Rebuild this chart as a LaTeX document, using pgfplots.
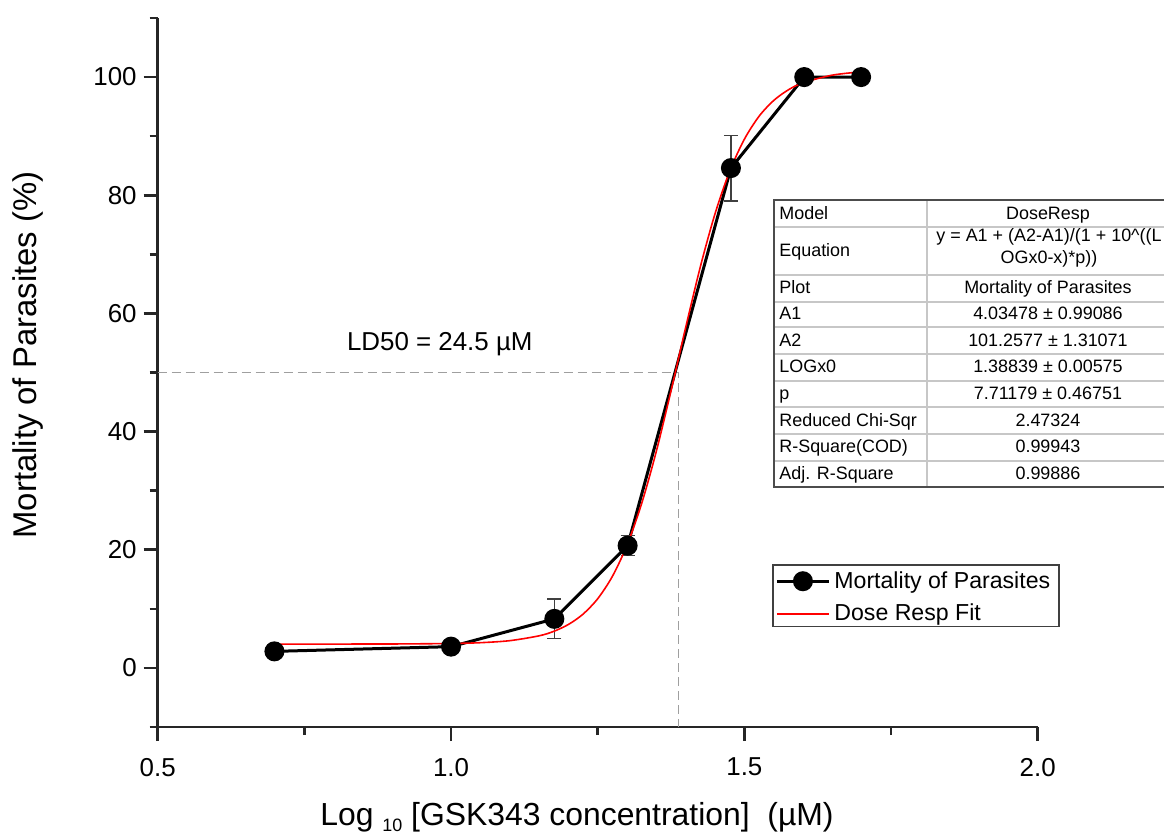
\documentclass[border=0pt]{standalone}
\usepackage{pgfplots}
\pgfplotsset{compat=1.18}
\usepackage{fontspec}
\setmainfont{Liberation Sans}
\newcommand{\tfont}{\fontsize{9}{11}\selectfont}
\begin{document}
\begin{tikzpicture}
\path[use as bounding box] (-78.85bp,-54.5bp) rectangle (503.15bp,363.5bp);
\begin{axis}[
  at={(0,0)}, anchor=south west, scale only axis,
  width=440bp, height=354.5bp,
  xmin=0.5, xmax=2.0, ymin=-10, ymax=110,
  axis x line*=bottom, axis y line*=left,
  axis line style={line width=1.3bp, black!85},
  every tick/.style={line width=1.3bp, black!85},
  tick align=outside,
  major tick length=7bp, minor tick length=4bp,
  xtick={0.5,1.0,1.5,2.0}, xticklabels={0.5,1.0,1.5,2.0},
  minor xtick={0.75,1.25,1.75},
  ytick={0,20,40,60,80,100},
  minor ytick={-10,10,30,50,70,90,110},
  ticklabel style={font=\fontsize{13}{15}\selectfont},
  xticklabel style={yshift=-5bp},
  /pgf/number format/assume math mode=true,
  clip=false,
  legend style={at={(0.7015,0.2257)}, anchor=north west, draw=none, fill=none,
    font=\fontsize{11.6}{13}\selectfont, inner sep=0pt,
    cells={anchor=west}, row sep=2.5bp},
  legend image code/.code={\draw[mark repeat=2,mark phase=2,#1] plot coordinates {(0bp,0bp) (13bp,0bp) (26bp,0bp)};},
]
\addplot[gray!75, dash pattern=on 4.5bp off 2.5bp, line width=0.6bp, forget plot]
  coordinates {(0.5,50) (1.38839,50) (1.38839,-10)};
\addplot[black, line width=1.5bp, mark=*, mark size=4.25bp, mark options={solid, fill=black},
  error bars/.cd, y dir=both, y explicit,
  error bar style={line width=0.7bp, black!75},
  error mark options={rotate=90, mark size=3.5bp, line width=0.7bp, black!75}]
  table[x=x, y=y, y error=e] {
x y e
0.69897 2.8 0
1.0 3.6 0
1.17609 8.3 3.35
1.30103 20.7 1.7
1.47712 84.6 5.55
1.60206 100 0
1.69897 100 0
};
\addlegendentry{Mortality of Parasites}
\addplot[red, line width=0.8bp, smooth] coordinates {
(0.69897,4.035) (0.8,4.038) (0.9,4.051) (1.0,4.133) (1.05,4.27) (1.1,4.61)
(1.15,5.43) (1.175,6.185) (1.2,7.35) (1.225,9.10) (1.25,11.71) (1.275,15.49)
(1.3,20.78) (1.325,27.85) (1.35,36.69) (1.375,46.90) (1.38839,52.65) (1.4,57.64)
(1.425,67.91) (1.45,76.87) (1.475,84.07) (1.5,89.48) (1.525,93.36) (1.55,96.04)
(1.575,97.84) (1.6,99.04) (1.65,100.33) (1.69897,100.88)
};
\addlegendentry{Dose Resp Fit}
\end{axis}
\begin{scope}[shift={(-78.85bp,363.5bp)},x=0.5bp,y=-0.5bp]
% legend frame
\draw[black!75, line width=0.8bp] (773.3,565) rectangle (1059,626.7);
% axis labels
\node[rotate=90, font=\fontsize{16.5}{19}\selectfont] at (28,355) {Mortality of Parasites (\%)};
\node[anchor=base, font=\fontsize{16}{19}\selectfont] at (577,826)
  {Log {\fontsize{9}{10}\selectfont\raisebox{-0.3em}{10}} [GSK343 concentration]~~(µM)};
\node[anchor=base west, font=\fontsize{13}{15}\selectfont] at (340,350.7) {LD50 = 24.5 µM};
% table
\fill[white] (774,200) rectangle (1172,487.3);
\foreach \yy in {227.3,275,301.7,327.3,354,380.7,407.3,434,460.7}
  \draw[black!22, line width=1bp] (775,\yy) -- (1172,\yy);
\draw[black!22, line width=1bp] (927.3,200) -- (927.3,487.3);
\draw[black!70, line width=0.8bp] (1172,200) -- (774,200) -- (774,487.3) -- (1172,487.3);
\begin{scope}[every node/.style={font=\tfont, inner sep=0pt}]
\node[anchor=base west] at (779,219.2) {Model};
\node[anchor=base west] at (779,256.7) {Equation};
\node[anchor=base west] at (779,293.9) {Plot};
\node[anchor=base west] at (779,320) {A1};
\node[anchor=base west] at (779,346.2) {A2};
\node[anchor=base west] at (779,372.9) {LOGx0};
\node[anchor=base west] at (779,399.5) {p};
\node[anchor=base west] at (779,426.2) {Reduced Chi-Sqr};
\node[anchor=base west] at (779,452.9) {R-Square(COD)};
\node[anchor=base west] at (779,479.5) {Adj. R-Square};
\node[anchor=base] at (1048,219.2) {DoseResp};
\node[anchor=base] at (1049,241.7) {y = A1 + (A2-A1)/(1 + 10\textasciicircum((L};
\node[anchor=base] at (1049,263.3) {OGx0-x)*p))};
\node[anchor=base] at (1048,293.9) {Mortality of Parasites};
\node[anchor=base] at (1048,320) {4.03478 ± 0.99086};
\node[anchor=base] at (1048,346.2) {101.2577 ± 1.31071};
\node[anchor=base] at (1048,372.9) {1.38839 ± 0.00575};
\node[anchor=base] at (1048,399.5) {7.71179 ± 0.46751};
\node[anchor=base] at (1048,426.2) {2.47324};
\node[anchor=base] at (1048,452.9) {0.99943};
\node[anchor=base] at (1048,479.5) {0.99886};
\end{scope}
\end{scope}
\end{tikzpicture}
\end{document}
